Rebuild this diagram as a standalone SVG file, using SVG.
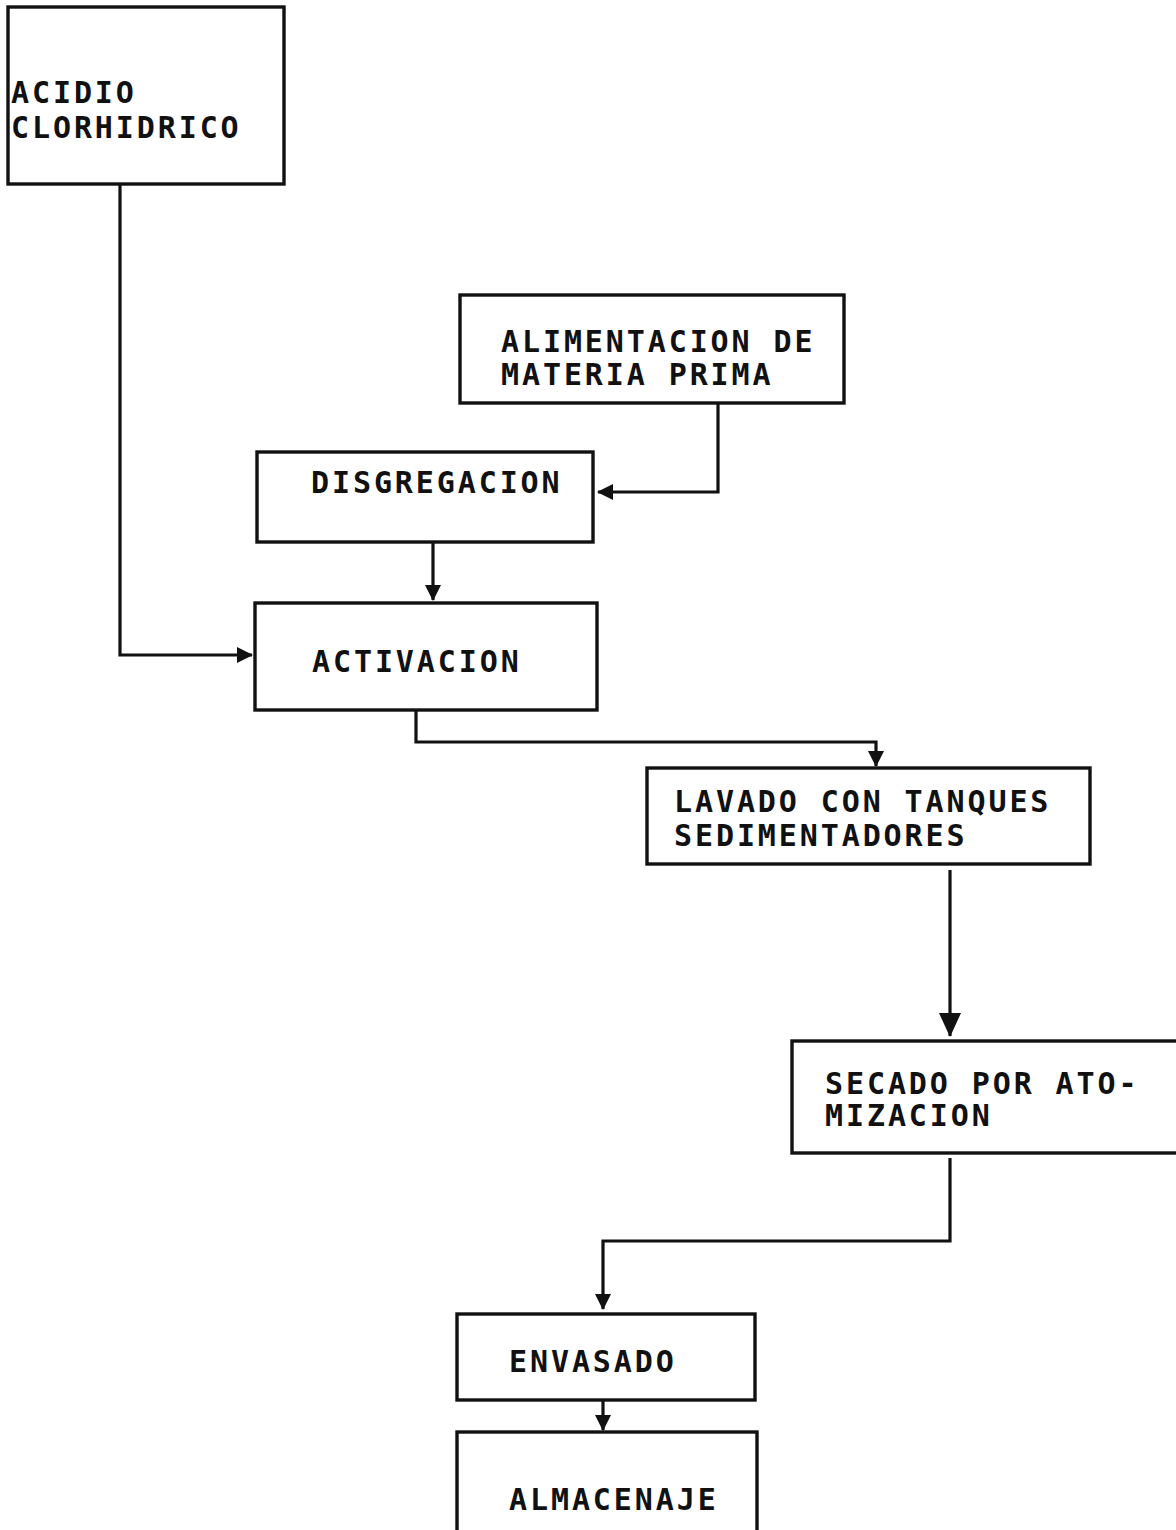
<svg xmlns="http://www.w3.org/2000/svg" width="1176" height="1530" viewBox="0 0 1176 1530">
  <defs>
    <style>
      .box { fill: none; stroke: #111; stroke-width: 3.4; }
      .lbl { font-family: "DejaVu Sans Mono", "Liberation Mono", monospace; font-size: 30px; font-weight: bold; letter-spacing: 2.9px; fill: #111; }
      .wire { fill: none; stroke: #111; stroke-width: 3.2; stroke-linejoin: miter; }
    </style>
    <marker id="tip" viewBox="0 0 16 16" refX="15" refY="8" markerWidth="16" markerHeight="16" markerUnits="userSpaceOnUse" orient="auto">
      <path d="M0,0 L16,8 L0,16 Z" fill="#111"/>
    </marker>
    <marker id="tipBig" viewBox="0 0 24 22" refX="23" refY="11" markerWidth="24" markerHeight="22" markerUnits="userSpaceOnUse" orient="auto">
      <path d="M0,0 L24,11 L0,22 Z" fill="#111"/>
    </marker>
  </defs>
  <rect width="1176" height="1530" fill="#fff"/>

  <g id="acido">
    <rect class="box" x="8" y="7" width="276" height="177"/>
    <text class="lbl" x="11" y="103">ACIDIO</text>
    <text class="lbl" x="11" y="138">CLORHIDRICO</text>
  </g>

  <g id="alimentacion">
    <rect class="box" x="460" y="295" width="384" height="108"/>
    <text class="lbl" x="501" y="352">ALIMENTACION DE</text>
    <text class="lbl" x="501" y="385">MATERIA PRIMA</text>
  </g>

  <g id="disgregacion">
    <rect class="box" x="257" y="452" width="336" height="90"/>
    <text class="lbl" x="311" y="493">DISGREGACION</text>
  </g>

  <g id="activacion">
    <rect class="box" x="255" y="603" width="342" height="107"/>
    <text class="lbl" x="312" y="672">ACTIVACION</text>
  </g>

  <g id="lavado">
    <rect class="box" x="647" y="768" width="443" height="96"/>
    <text class="lbl" x="674" y="812">LAVADO CON TANQUES</text>
    <text class="lbl" x="674" y="846">SEDIMENTADORES</text>
  </g>

  <g id="secado">
    <rect class="box" x="792" y="1041" width="390" height="112"/>
    <text class="lbl" x="825" y="1094">SECADO POR ATO-</text>
    <text class="lbl" x="825" y="1126">MIZACION</text>
  </g>

  <g id="envasado">
    <rect class="box" x="457" y="1314" width="298" height="86"/>
    <text class="lbl" x="509" y="1372">ENVASADO</text>
  </g>

  <g id="almacenaje">
    <rect class="box" x="457" y="1432" width="300" height="110"/>
    <text class="lbl" x="509" y="1510">ALMACENAJE</text>
  </g>

  <g id="connectors">
    <path class="wire" d="M120,184 V655 H252" marker-end="url(#tip)"/>
    <path class="wire" d="M718,403 V492 H598" marker-end="url(#tip)"/>
    <path class="wire" d="M433,542 V600" marker-end="url(#tip)"/>
    <path class="wire" d="M416,710 V742 H876 V766" marker-end="url(#tip)"/>
    <path class="wire" d="M950,870 V1036" marker-end="url(#tipBig)"/>
    <path class="wire" d="M950,1158 V1241 H603 V1309" marker-end="url(#tip)"/>
    <path class="wire" d="M603,1400 V1430" marker-end="url(#tip)"/>
  </g>
</svg>
